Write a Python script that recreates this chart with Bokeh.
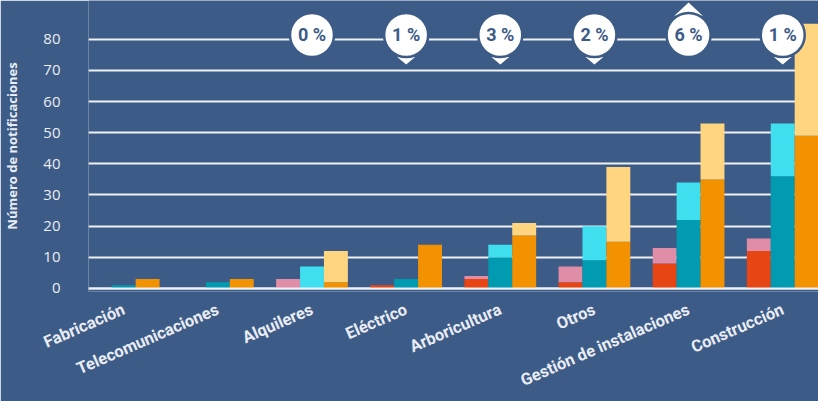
import numpy as np
from bokeh.plotting import figure
from bokeh.models import Range1d, FixedTicker, Span, ColumnDataSource
from bokeh.core.properties import value
from bokeh.embed import file_html
from bokeh.resources import INLINE

# ---------------- data ----------------
categories = ["Fabricación", "Telecomunicaciones", "Alquileres", "Eléctrico",
              "Arboricultura", "Otros", "Gestión de instalaciones", "Construcción"]
# group 1 (red lower part / pink total)
red_lower = [0, 0, 0, 1, 3, 2, 8, 12]
pink_total = [0, 0, 3, 1, 4, 7, 13, 16]
# group 2 (teal lower part / cyan total)
teal_lower = [1, 2, 0, 3, 10, 9, 22, 36]
cyan_total = [1, 2, 7, 3, 14, 20, 34, 53]
# group 3 (orange lower part / yellow total)
orange_lower = [3, 3, 2, 14, 17, 15, 35, 49]
yellow_total = [3, 3, 12, 14, 21, 39, 53, 85]

y_ticks = [0, 10, 20, 30, 40, 50, 60, 70, 80]

change_categories = ["Alquileres", "Eléctrico", "Arboricultura", "Otros",
                     "Gestión de instalaciones", "Construcción"]
change_labels = ["0 %", "1 %", "3 %", "2 %", "6 %", "1 %"]
change_direction = ["none", "down", "down", "down", "up", "down"]

# ---------------- style ----------------
BG = "#3d5b87"
GRID = "#eef1f5"
TXT = "#e9edf3"
RED, PINK = "#e84515", "#e08da8"
TEAL, CYAN = "#009bb0", "#40dff0"
ORANGE, YELLOW = "#f39200", "#ffd580"
BAR_W = 0.254

p = figure(width=818, height=401, output_backend="svg", toolbar_location=None,
           x_range=Range1d(-0.374, 7.38), y_range=Range1d(-1, 92.48),
           min_border_left=86, min_border_right=0, min_border_top=0,
           min_border_bottom=109,
           background_fill_color=BG, border_fill_color=BG,
           outline_line_color=None)

idx = np.arange(len(categories))

groups = [
    (-BAR_W, red_lower, pink_total, RED, PINK),
    (0.0, teal_lower, cyan_total, TEAL, CYAN),
    (BAR_W, orange_lower, yellow_total, ORANGE, YELLOW),
]
for off, low, tot, c_dark, c_light in groups:
    x = idx + off
    low = np.array(low, dtype=float)
    tot = np.array(tot, dtype=float)
    p.vbar(x=x, bottom=0, top=low, width=BAR_W, fill_color=c_dark,
           line_color=None)
    p.vbar(x=x, bottom=low, top=tot, width=BAR_W, fill_color=c_light,
           line_color=None)

p.add_layout(Span(location=0, dimension="width", line_color=GRID,
                  line_width=2, level="overlay"))

# ---------------- change bubbles ----------------
cx = np.array([categories.index(c) for c in change_categories], dtype=float)
BUBBLE_Y = 81.4
down_x, down_y, up_x, up_y = [], [], [], []
for x0, d in zip(cx, change_direction):
    if d == "down":
        down_x.append([x0 - 0.095, x0 + 0.095, x0])
        down_y.append([BUBBLE_Y - 7.1, BUBBLE_Y - 7.1, BUBBLE_Y - 9.5])
    elif d == "up":
        up_x.append([x0 - 0.15, x0 + 0.15, x0])
        up_y.append([BUBBLE_Y + 6.2, BUBBLE_Y + 6.2, BUBBLE_Y + 10.4])
if up_x:
    p.patches(xs=up_x, ys=up_y, fill_color="white", line_color=None)
if down_x:
    p.patches(xs=down_x, ys=down_y, fill_color="white", line_color=None)

bsrc = ColumnDataSource(dict(x=cx, y=[BUBBLE_Y] * len(cx), t=change_labels))
p.scatter(x="x", y="y", source=bsrc, marker="circle", size=44,
          fill_color="white", line_color=BG, line_width=2.5)
p.text(x="x", y="y", text="t", source=bsrc, text_align="center",
       text_baseline="middle", text_font=value("Roboto"),
       text_font_style="bold", text_font_size="18px", text_color=BG)

# ---------------- axes ----------------
p.xgrid.visible = False
p.ygrid.ticker = FixedTicker(ticks=y_ticks)
p.ygrid.grid_line_color = GRID
p.ygrid.grid_line_width = 2

p.yaxis.ticker = FixedTicker(ticks=y_ticks)
p.yaxis.axis_line_color = None
p.yaxis.major_tick_line_color = None
p.yaxis.minor_tick_line_color = None
p.yaxis.major_label_standoff = 22
p.yaxis.major_label_text_color = TXT
p.yaxis.major_label_text_font = "Open Sans"
p.yaxis.major_label_text_font_size = "15px"
p.yaxis.axis_label = "Número de notificaciones"
p.yaxis.axis_label_text_color = TXT
p.yaxis.axis_label_text_font = "Open Sans"
p.yaxis.axis_label_text_font_style = "bold"
p.yaxis.axis_label_text_font_size = "13px"
p.yaxis.axis_label_standoff = 19

p.xaxis.ticker = FixedTicker(ticks=list(range(len(categories))))
p.xaxis.major_label_overrides = {i: c for i, c in enumerate(categories)}
p.xaxis.major_label_orientation = 0.41
p.xaxis.axis_line_color = None
p.xaxis.major_tick_line_color = None
p.xaxis.minor_tick_line_color = None
p.xaxis.major_tick_out = 0
p.xaxis.major_tick_in = 0
p.xaxis.major_label_standoff = 17
p.xaxis.major_label_text_color = TXT
p.xaxis.major_label_text_font = "Roboto"
p.xaxis.major_label_text_font_style = "bold"
p.xaxis.major_label_text_font_size = "16.5px"

open("out.html", "w").write(file_html(p, INLINE))
